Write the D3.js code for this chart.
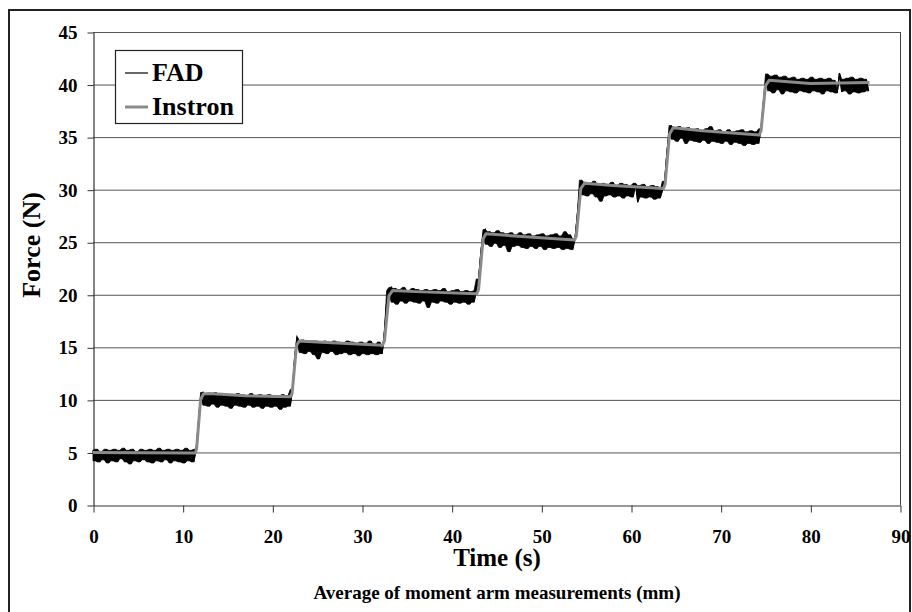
<!DOCTYPE html>
<html>
<head>
<meta charset="utf-8">
<script src="https://cdn.jsdelivr.net/npm/d3@7"></script>
<style>
  body { margin: 0; background: #fff; }
  svg text { font-family: "Liberation Serif", "Times New Roman", serif; font-weight: bold; fill: #000; }
</style>
</head>
<body>
<svg id="chart" width="912" height="612"></svg>
<script>
const X_TICKS = [0, 10, 20, 30, 40, 50, 60, 70, 80, 90];
const Y_TICKS = [0, 5, 10, 15, 20, 25, 30, 35, 40, 45];

// Instron reference force, [time s, force N]
const instronTime = [0, 11.4, 11.55, 12.0, 12.3, 13, 17, 22, 22.2, 22.7, 23, 25, 32.3, 32.5, 33.0, 33.4, 36, 42.8,
  43.0, 43.5, 43.8, 47, 53.7, 53.9, 54.4, 54.8, 58, 63.6, 63.8, 64.3, 64.7, 68, 74.3, 74.5, 75.0, 75.4, 80, 86.6];
const instronForce = [5.0, 4.95, 5.3, 10.0, 10.55, 10.6, 10.4, 10.3, 10.6, 15.2, 15.6, 15.5, 15.2, 15.6, 19.9, 20.4, 20.3, 20.1,
  20.5, 25.3, 25.8, 25.6, 25.2, 25.6, 30.1, 30.6, 30.4, 30.1, 30.5, 35.3, 35.9, 35.6, 35.2, 35.6, 39.9, 40.4, 40.1, 40.2];

// FAD samples, one every 0.25 s from t = 0
const FAD_STEP = 0.25;
const fadForce = [
  5.2,4.2,5.3,4.1,5.1,4.3,5.3,4.0,5.2,4.2, 5.3,4.1,5.2,4.4,5.4,4.1,5.2,3.9,5.3,4.2,
  5.1,4.1,5.3,4.3,5.2,4.1,5.3,4.0,5.2,4.2, 5.4,4.1,5.2,4.3,5.3,4.0,5.2,4.2,5.3,4.1,
  5.2,4.0,5.4,4.2,5.2,4.1,5.3,
  7.8,10.3,
  10.7,9.5,10.6,9.4,10.5,9.6,10.7,9.3,10.5,9.5, 10.6,9.4,10.5,9.2,10.4,9.5,10.6,9.4,10.5,9.3,
  10.4,9.5,10.6,9.3,10.4,9.4,10.5,9.2,10.4,9.4, 10.5,9.3,10.4,9.4,10.3,9.1,10.5,9.3,10.4,9.4,
  11.0,14.2,16.0,
  15.6,14.5,15.7,14.4,15.5,14.6,15.6,14.3,15.6,13.9, 15.5,14.5,15.6,14.4,15.4,14.6,15.6,14.3,15.5,14.4,
  15.4,14.5,15.6,14.3,15.5,14.4,15.4,14.2,15.5,14.4, 15.4,14.3,15.6,14.4,15.3,14.3,15.5,14.4,
  16.5,19.2,20.4,
  20.7,19.3,20.6,19.1,20.5,19.4,20.7,19.2,20.4,19.4, 20.6,19.3,20.5,19.2,20.4,19.4,20.5,18.8,20.4,19.3,
  20.5,19.2,20.4,19.4,20.6,19.3,20.3,19.1,20.4,19.3, 20.5,19.2,20.3,19.3,20.4,19.1,20.3,19.3,20.4,
  21.5,24.0,25.8,
  26.2,24.8,26.0,24.6,25.9,24.9,26.1,24.5,25.9,24.7, 25.8,24.1,25.9,24.6,25.7,24.7,25.9,24.5,25.7,24.4,
  25.8,24.6,25.6,24.4,25.7,24.6,25.8,24.3,25.6,24.5, 25.7,24.4,25.8,24.5,25.6,24.3,26.0,24.4,25.7,24.3,
  25.3,27.5,29.8,
  30.9,29.5,30.7,29.4,30.6,29.6,30.8,29.3,30.5,28.9, 30.6,29.4,30.5,29.5,30.7,29.3,30.4,29.4,30.6,29.2,
  30.5,29.4,30.4,29.3,30.6,28.8,30.4,29.3,30.5,29.2, 30.3,29.3,30.4,29.1,30.3,29.2,
  29.9,30.8,33.5,35.4,
  36.1,34.8,35.9,34.6,36.0,34.9,35.8,34.4,35.9,34.7, 35.7,34.6,35.8,34.5,35.6,34.7,35.8,34.4,36.0,34.6,
  35.6,34.5,35.7,34.4,35.5,34.6,35.7,34.3,35.5,34.5, 35.6,34.4,35.7,34.2,35.5,34.4,35.6,34.3,35.5,34.4,
  35.8,38.2,40.2,
  41.0,39.4,40.8,39.2,40.9,39.5,40.7,39.1,40.8,39.4, 40.6,39.3,40.7,39.2,40.5,39.4,40.6,39.3,40.5,39.2,
  40.7,39.4,40.5,39.3,40.6,39.1,40.5,39.4,40.6,39.3, 40.4,39.2,41.1,39.3,40.5,39.4,40.6,39.1,40.7,39.3,
  40.5,39.2,40.6,39.3,40.5,39.4
];

const SERIES = ['FAD', 'Instron'];

const svg = d3.select('#chart');
const plot = { left: 93, right: 900, top: 32, bottom: 505 };

const x = d3.scaleLinear().domain([0, 90]).range([plot.left, plot.right]);
const y = d3.scaleLinear().domain([0, 45]).range([plot.bottom, plot.top]);

// outer frame
svg.append('rect')
  .attr('x', 9).attr('y', 10).attr('width', 901).attr('height', 620)
  .attr('fill', 'none').attr('stroke', '#222').attr('stroke-width', 2);

// gridlines
svg.append('g')
  .selectAll('line')
  .data(Y_TICKS.slice(1))
  .join('line')
  .attr('x1', plot.left).attr('x2', plot.right)
  .attr('y1', d => y(d) + 0.5).attr('y2', d => y(d) + 0.5)
  .attr('stroke', '#555').attr('stroke-width', 1);

svg.append('line')
  .attr('x1', plot.right + 0.5).attr('x2', plot.right + 0.5)
  .attr('y1', plot.top).attr('y2', plot.bottom)
  .attr('stroke', '#444');

// axes
const yAxis = svg.append('g')
  .attr('transform', `translate(${plot.left + 0.5},0.5)`)
  .call(d3.axisLeft(y).tickValues(Y_TICKS).tickSize(6).tickPadding(10).tickSizeOuter(0));
const xAxis = svg.append('g')
  .attr('transform', `translate(0.5,${plot.bottom + 0.5})`)
  .call(d3.axisBottom(x).tickValues(X_TICKS).tickSize(7).tickPadding(17).tickSizeOuter(0));

for (const ax of [yAxis, xAxis]) {
  ax.attr('font-family', null);
  ax.select('.domain').attr('stroke', '#333').attr('stroke-width', 1.2);
  ax.selectAll('.tick line').attr('stroke', '#333');
  ax.selectAll('.tick text').attr('font-size', 19);
}

// FAD trace: sample-to-sample envelope (solid band) on the plateaus, plus the raw line
const fadData = fadForce.map((v, i) => {
  const next = fadForce[Math.min(i + 1, fadForce.length - 1)];
  const jump = Math.abs(next - v) > 1.8; // a load step, not noise
  return { t: i * FAD_STEP, v, lo: jump ? v : Math.min(v, next), hi: jump ? v : Math.max(v, next) };
});

svg.append('path')
  .datum(fadData)
  .attr('d', d3.area().x(d => x(d.t)).y0(d => y(d.lo)).y1(d => y(d.hi)))
  .attr('fill', '#000')
  .attr('stroke', '#000')
  .attr('stroke-width', 0.8);

svg.append('path')
  .datum(fadData)
  .attr('d', d3.line().x(d => x(d.t)).y(d => y(d.v)))
  .attr('fill', 'none')
  .attr('stroke', '#000')
  .attr('stroke-width', 1.2);

// Instron trace
const instronData = instronTime.map((t, i) => [t, instronForce[i]]);
svg.append('path')
  .datum(instronData)
  .attr('d', d3.line().x(d => x(d[0])).y(d => y(d[1])))
  .attr('fill', 'none')
  .attr('stroke', '#8a8a8a')
  .attr('stroke-width', 3)
  .attr('stroke-linejoin', 'round');

// axis titles
svg.append('text')
  .attr('x', 497).attr('y', 566)
  .attr('text-anchor', 'middle')
  .attr('font-size', 25)
  .text('Time (s)');

svg.append('text')
  .attr('transform', 'translate(40,245) rotate(-90)')
  .attr('text-anchor', 'middle')
  .attr('font-size', 26)
  .text('Force (N)');

svg.append('text')
  .attr('x', 497).attr('y', 599)
  .attr('text-anchor', 'middle')
  .attr('font-size', 19)
  .text('Average of moment arm measurements (mm)');

// legend
const legend = svg.append('g').attr('transform', 'translate(115,50)');
legend.append('rect')
  .attr('x', 0.5).attr('y', 0.5).attr('width', 127).attr('height', 73)
  .attr('fill', '#fff').attr('stroke', '#222').attr('stroke-width', 1.2);

const legendRow = legend.selectAll('g.row')
  .data(SERIES)
  .join('g')
  .attr('class', 'row')
  .attr('transform', (d, i) => `translate(0,${23 + i * 34})`);

legendRow.append('line')
  .attr('x1', 10).attr('x2', 33)
  .attr('stroke', (d, i) => i ? '#8a8a8a' : '#000')
  .attr('stroke-width', (d, i) => i ? 3 : 1.2);

legendRow.append('text')
  .attr('x', 37).attr('y', 8)
  .attr('font-size', 26)
  .text(d => d);
</script>
</body>
</html>
